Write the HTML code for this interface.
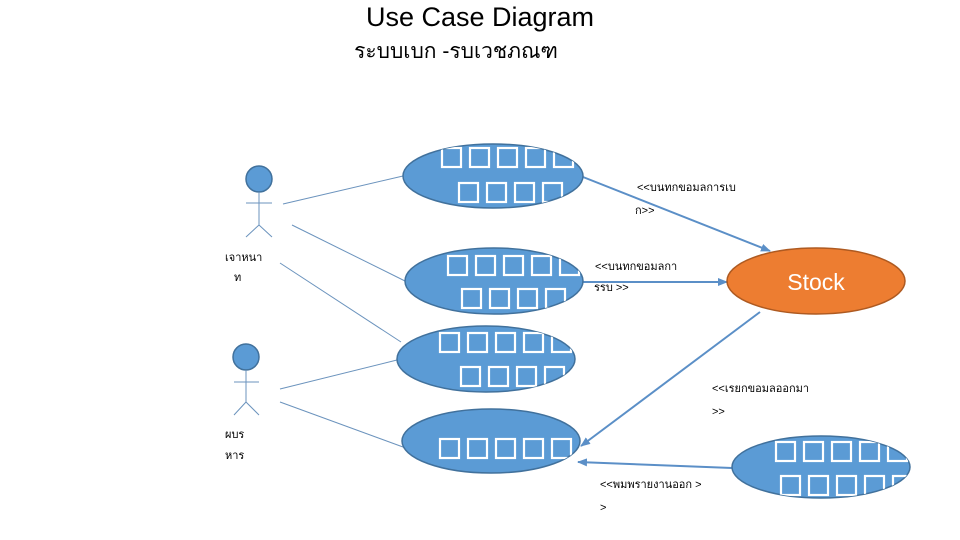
<!DOCTYPE html>
<html><head><meta charset="utf-8"><style>
html,body{margin:0;padding:0;background:#fff;width:960px;height:540px;overflow:hidden}
svg{display:block}
.t{font-family:"Liberation Sans","Noto Sans CJK SC",sans-serif;font-size:11px;fill:#000}
</style></head><body>
<svg width="960" height="540" viewBox="0 0 960 540" xmlns="http://www.w3.org/2000/svg">
<defs>
<marker id="a" markerWidth="10" markerHeight="8" refX="9" refY="4" orient="auto" markerUnits="userSpaceOnUse"><path d="M0,0 L10,4 L0,8 z" fill="#5b8fc7"/></marker>
<clipPath id="c1"><ellipse cx="493" cy="176" rx="90" ry="32"/></clipPath>
<clipPath id="c2"><ellipse cx="494" cy="281" rx="89" ry="33"/></clipPath>
<clipPath id="c3"><ellipse cx="486" cy="359" rx="89" ry="33"/></clipPath>
<clipPath id="c4"><ellipse cx="491" cy="441" rx="89" ry="32"/></clipPath>
<clipPath id="c5"><ellipse cx="821" cy="467" rx="89" ry="31"/></clipPath>
</defs>
<text x="480" y="26" text-anchor="middle" font-family="Liberation Sans, sans-serif" font-size="27" fill="#000">Use Case Diagram</text>
<text x="456" y="58" text-anchor="middle" font-family="Liberation Sans, Noto Sans CJK SC, sans-serif" font-size="21" fill="#000">ระบบเบก  -รบเวชภณฑ</text>

<g stroke="#6b93bd" stroke-width="1" fill="none">
<line x1="283" y1="204" x2="403" y2="176"/>
<line x1="292" y1="225" x2="405" y2="281"/>
<line x1="280" y1="263" x2="401" y2="342"/>
<line x1="280" y1="389" x2="397" y2="360"/>
<line x1="280" y1="402" x2="403" y2="447"/>
</g>
<g stroke="#5b8fc7" stroke-width="2" fill="none">
<line x1="583" y1="177" x2="770" y2="251" marker-end="url(#a)"/>
<line x1="583" y1="282" x2="727" y2="282" marker-end="url(#a)"/>
<line x1="760" y1="312" x2="581" y2="446" marker-end="url(#a)"/>
<line x1="732" y1="468" x2="578" y2="462" marker-end="url(#a)"/>
</g>

<g fill="#5b9bd5" stroke="#41719c" stroke-width="1.5">
<ellipse cx="493" cy="176" rx="90" ry="32"/>
<ellipse cx="494" cy="281" rx="89" ry="33"/>
<ellipse cx="486" cy="359" rx="89" ry="33"/>
<ellipse cx="491" cy="441" rx="89" ry="32"/>
<ellipse cx="821" cy="467" rx="89" ry="31"/>
</g>
<ellipse cx="816" cy="281" rx="89" ry="33" fill="#ed7d31" stroke="#ae5a21" stroke-width="1.5"/>
<text x="816" y="290" text-anchor="middle" font-family="Liberation Sans, sans-serif" font-size="23" fill="#fff">Stock</text>

<g fill="none" stroke="#fff" stroke-width="2.2">
<g clip-path="url(#c1)">
<rect x="442" y="148" width="19" height="19"/><rect x="470" y="148" width="19" height="19"/><rect x="498" y="148" width="19" height="19"/><rect x="526" y="148" width="19" height="19"/><rect x="554" y="148" width="19" height="19"/>
<rect x="459" y="183" width="19" height="19"/><rect x="487" y="183" width="19" height="19"/><rect x="515" y="183" width="19" height="19"/><rect x="543" y="183" width="19" height="19"/>
</g>
<g clip-path="url(#c2)">
<rect x="448" y="256" width="19" height="19"/><rect x="476" y="256" width="19" height="19"/><rect x="504" y="256" width="19" height="19"/><rect x="532" y="256" width="19" height="19"/><rect x="560" y="256" width="19" height="19"/>
<rect x="462" y="289" width="19" height="19"/><rect x="490" y="289" width="19" height="19"/><rect x="518" y="289" width="19" height="19"/><rect x="546" y="289" width="19" height="19"/>
</g>
<g clip-path="url(#c3)">
<rect x="440" y="333" width="19" height="19"/><rect x="468" y="333" width="19" height="19"/><rect x="496" y="333" width="19" height="19"/><rect x="524" y="333" width="19" height="19"/><rect x="552" y="333" width="19" height="19"/>
<rect x="461" y="367" width="19" height="19"/><rect x="489" y="367" width="19" height="19"/><rect x="517" y="367" width="19" height="19"/><rect x="545" y="367" width="19" height="19"/>
</g>
<g clip-path="url(#c4)">
<rect x="440" y="439" width="19" height="19"/><rect x="468" y="439" width="19" height="19"/><rect x="496" y="439" width="19" height="19"/><rect x="524" y="439" width="19" height="19"/><rect x="552" y="439" width="19" height="19"/>
</g>
<g clip-path="url(#c5)">
<rect x="776" y="442" width="19" height="19"/><rect x="804" y="442" width="19" height="19"/><rect x="832" y="442" width="19" height="19"/><rect x="860" y="442" width="19" height="19"/><rect x="888" y="442" width="19" height="19"/>
<rect x="781" y="476" width="19" height="19"/><rect x="809" y="476" width="19" height="19"/><rect x="837" y="476" width="19" height="19"/><rect x="865" y="476" width="19" height="19"/><rect x="893" y="476" width="19" height="19"/>
</g>
</g>

<circle cx="259" cy="179" r="13" fill="#5b9bd5" stroke="#41719c" stroke-width="1.5"/>
<g stroke="#6b93bd" stroke-width="1" fill="none">
<line x1="259" y1="192" x2="259" y2="225"/><line x1="246" y1="203" x2="272" y2="203"/>
<line x1="259" y1="225" x2="246" y2="237"/><line x1="259" y1="225" x2="272" y2="237"/>
</g>
<circle cx="246" cy="357" r="13" fill="#5b9bd5" stroke="#41719c" stroke-width="1.5"/>
<g stroke="#6b93bd" stroke-width="1" fill="none">
<line x1="246" y1="370" x2="246" y2="402"/><line x1="234" y1="382" x2="259" y2="382"/>
<line x1="246" y1="402" x2="234" y2="415"/><line x1="246" y1="402" x2="259" y2="415"/>
</g>

<text class="t" x="225" y="261">เจาหนา</text>
<text class="t" x="234" y="281">ท</text>
<text class="t" x="225" y="438">ผบร</text>
<text class="t" x="225" y="459">หาร</text>
<text class="t" x="637" y="191">&lt;&lt;บนทกขอมลการเบ</text>
<text class="t" x="635" y="214">ก&gt;&gt;</text>
<text class="t" x="595" y="270">&lt;&lt;บนทกขอมลกา</text>
<text class="t" x="594" y="291">รรบ   &gt;&gt;</text>
<text class="t" x="712" y="392">&lt;&lt;เรยกขอมลออกมา</text>
<text class="t" x="712" y="415">&gt;&gt;</text>
<text class="t" x="600" y="488">&lt;&lt;พมพรายงานออก      &gt;</text>
<text class="t" x="600" y="511">&gt;</text>
</svg>
</body></html>
